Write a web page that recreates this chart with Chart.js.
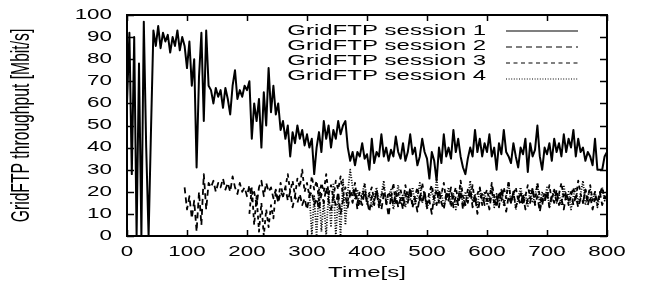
<!DOCTYPE html>
<html><head><meta charset="utf-8">
<script src="https://cdn.jsdelivr.net/npm/chart.js@4.4.1/dist/chart.umd.min.js"></script>
<style>html,body{margin:0;padding:0;background:#fff}canvas{display:block}</style>
</head><body>
<canvas id="c" width="646" height="286"></canvas>
<script>
// ---------------- data ----------------
const STEP = 4; // seconds between samples
const seriesLabels = ['GridFTP session 1', 'GridFTP session 2', 'GridFTP session 3', 'GridFTP session 4'];
const seriesStart = [0, 96, 204, 304]; // time of first sample [s]

const session1 = [
60,92,28,90,0,78,0,97,40,0,48,93,86,95,85,92,88,91,83,90,
86,93,84,90,86,76,88,68,80,31,72,92,52,93,68,66,60,67,63,66,
58,67,62,55,68,75,62,66,63,68,66,70,44,60,52,62,40,65,50,76,
56,68,55,60,48,52,44,50,36,47,42,50,44,48,41,46,40,44,28,40,
47,38,52,44,50,40,48,44,52,46,50,52,40,34,38,32,38,36,42,35,
37,30,44,33,38,36,46,36,40,34,39,36,45,38,35,42,34,38,46,37,
40,32,36,44,38,35,26,38,34,25,40,33,46,36,40,35,48,38,44,36,
31,28,35,40,36,48,38,44,36,42,38,46,36,40,30,42,37,48,38,36,
33,42,36,31,40,37,44,29,42,36,39,50,36,30,40,37,42,34,44,38,
42,36,46,38,44,40,48,36,44,38,40,34,38,36,32,44,30,30,30,36,
38
];
const session2 = [
22,12,18,8,16,2,20,5,28,12,24,22,25,20,24,22,26,21,24,20,
27,22,19,24,20,22,18,23,16,20,14,22,25,18,24,20,22,17,21,15,
20,18,22,16,20,13,18,15,19,14,17,12,18,20,14,17,12,19,15,22,
16,12,18,14,20,10,16,18,13,19,15,21,12,17,14,20,16,11,18,14,
21,15,12,19,16,9,18,14,20,13,17,12,19,15,22,14,17,11,18,15,
20,13,16,10,18,14,21,15,12,19,16,22,13,18,14,20,12,17,15,21,
13,18,10,16,19,14,17,12,20,15,18,13,21,16,11,18,15,20,13,17,
14,19,12,17,15,22,14,18,11,17,15,20,13,18,15,21,14,17,12,19,
16,20,14,18,13,17,15,21,14,18,12,17,15,20,14,18,16
];
const session3 = [
10,22,5,18,2,15,0,12,4,14,8,20,16,24,18,22,28,20,25,18,
26,22,30,20,24,18,27,21,25,16,24,20,28,19,23,17,25,21,27,18,
22,16,21,18,24,15,20,17,23,14,19,22,16,20,13,18,22,15,20,17,
24,14,19,21,15,23,17,20,13,18,22,16,24,18,14,20,23,17,21,15,
19,24,16,20,13,18,22,16,25,18,14,21,17,23,15,19,22,14,18,21,
16,24,18,13,20,16,22,17,25,15,19,22,16,20,14,18,23,17,21,15,
24,18,14,20,17,23,16,21,15,19,24,17,20,14,18,22,16,25,19,15,
21,17,23,16,20,14,19,22,17,20
];
const session4 = [
20,0,18,0,22,2,16,0,20,4,24,0,18,0,26,5,20,30,22,17,
21,14,19,24,16,20,13,18,22,15,19,25,14,18,21,12,17,23,15,19,
13,20,16,22,14,18,24,15,19,12,17,21,14,26,16,20,13,18,22,15,
19,12,17,23,14,20,16,25,15,19,13,22,16,20,14,18,23,13,19,16,
21,14,18,24,15,20,12,17,22,16,19,13,21,15,18,24,14,20,16,22,
13,18,21,15,19,14,23,16,20,12,18,22,15,19,25,14,18,21,16,20,
13,18,22,16,19
];
const seriesValues = [session1, session2, session3, session4];
const seriesDash = [[], [6, 4], [4, 3.5], [1, 1.6]];
const seriesWidth = [2, 1.8, 1.8, 1.8];

const xMin = 0, xMax = 800, xStep = 100;
const yMin = 0, yMax = 100, yStep = 10;

// ---------------- text rendering (gnuplot output is stretched horizontally) ----------------
const K = 1.6;
const canvas = document.getElementById('c');
const ctx2d = canvas.getContext('2d');
const protoFill = CanvasRenderingContext2D.prototype.fillText;
ctx2d.fillText = function (text, x, y, maxWidth) {
  const m = this.getTransform();
  const p = m.transformPoint(new DOMPoint(x, y));
  this.save();
  const s = new DOMMatrix().translateSelf(p.x, p.y).scaleSelf(K, 1).translateSelf(-p.x, -p.y).multiplySelf(m);
  this.setTransform(s);
  if (maxWidth === undefined) protoFill.call(this, text, x, y);
  else protoFill.call(this, text, x, y, maxWidth * 10);
  this.restore();
};

const FONT = '"Liberation Sans", Arial, Helvetica, sans-serif';

const datasets = seriesValues.map((vals, i) => ({
  label: seriesLabels[i],
  data: vals.map((v, j) => ({ x: seriesStart[i] + j * STEP, y: v })),
  borderColor: '#000',
  backgroundColor: '#000',
  borderWidth: seriesWidth[i],
  borderDash: seriesDash[i],
  borderJoinStyle: 'round',
  pointRadius: 0,
  tension: 0,
  fill: false
}));

const framePlugin = {
  id: 'frame',
  afterDatasetsDraw(chart) {
    const { ctx, chartArea: { left, right, top, bottom }, scales: { x, y } } = chart;
    ctx.save();
    ctx.strokeStyle = '#000';
    ctx.setLineDash([]);
    ctx.lineWidth = 1.5;
    ctx.beginPath();
    x.ticks.forEach(t => {
      const px = Math.round(x.getPixelForValue(t.value)) + 0.5;
      ctx.moveTo(px, bottom); ctx.lineTo(px, bottom - 6);
      ctx.moveTo(px, top); ctx.lineTo(px, top + 6);
    });
    y.ticks.forEach(t => {
      const py = Math.round(y.getPixelForValue(t.value)) + 0.5;
      ctx.moveTo(left, py); ctx.lineTo(left + 7, py);
      ctx.moveTo(right, py); ctx.lineTo(right - 7, py);
    });
    ctx.stroke();
    ctx.lineWidth = 2;
    ctx.strokeRect(left, top, right - left, bottom - top);

    // key (top right, inside the plot)
    ctx.font = '15px ' + FONT;
    ctx.fillStyle = '#000';
    ctx.textAlign = 'right';
    ctx.textBaseline = 'middle';
    chart.data.datasets.forEach((ds, i) => {
      const ty = 30.5 + 15.2 * i;
      const ly = 31 + 16 * i;
      ctx.fillText(ds.label, 486, ty);
      ctx.beginPath();
      ctx.lineWidth = 1.2;
      ctx.setLineDash(ds.borderDash || []);
      ctx.moveTo(506, ly); ctx.lineTo(578, ly);
      ctx.stroke();
    });
    ctx.restore();
  }
};

new Chart(ctx2d, {
  type: 'line',
  data: { datasets },
  options: {
    responsive: false,
    animation: false,
    devicePixelRatio: 1,
    layout: { padding: { left: 0, top: 15, right: 39, bottom: 0 } },
    plugins: { legend: { display: false }, tooltip: { enabled: false } },
    scales: {
      x: {
        type: 'linear', min: xMin, max: xMax,
        grid: { display: false, drawTicks: false },
        border: { display: false },
        ticks: { stepSize: xStep, color: '#000', padding: 8, maxRotation: 0, autoSkip: false,
                 font: { family: FONT, size: 14 } },
        title: { display: true, text: 'Time[s]', color: '#000', padding: { top: 0, bottom: 4.6 },
                 font: { family: FONT, size: 15 } },
        afterFit(scale) { scale.height = 50; scale.paddingLeft = 0; scale.paddingRight = 0; }
      },
      y: {
        type: 'linear', min: yMin, max: yMax,
        grid: { display: false, drawTicks: false },
        border: { display: false },
        ticks: { stepSize: yStep, color: '#000', padding: 15, autoSkip: false,
                 font: { family: FONT, size: 14 } },
        title: { display: true, text: 'GridFTP throughput [Mbit/s]', color: '#000', padding: { top: 12.5, bottom: 0 },
                 font: { family: FONT, size: 15.7 } },
        afterFit(scale) { scale.width = 127; scale.paddingTop = 0; scale.paddingBottom = 0; }
      }
    }
  },
  plugins: [framePlugin]
});
</script>
</body></html>
